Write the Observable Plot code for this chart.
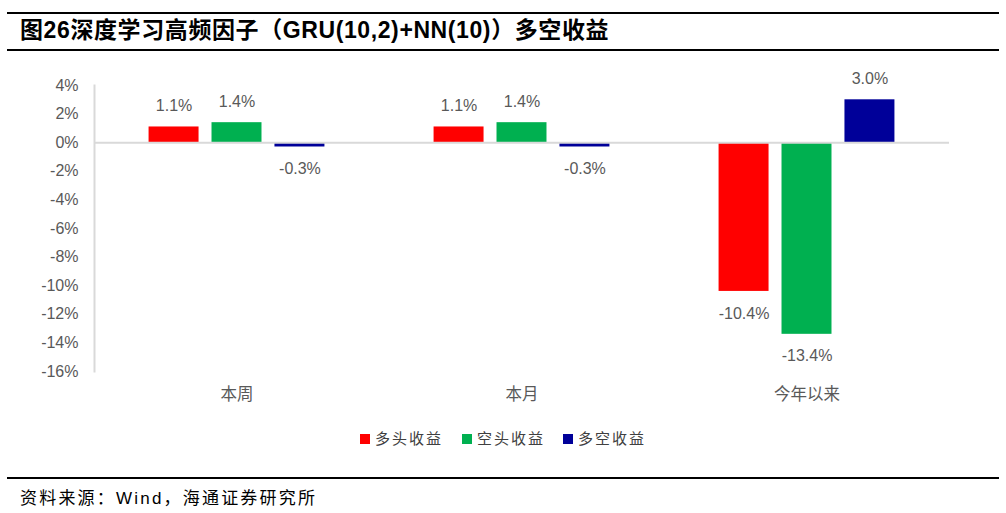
<!DOCTYPE html>
<html><head><meta charset="utf-8">
<script src="https://cdn.jsdelivr.net/npm/d3@7"></script>
<script src="https://cdn.jsdelivr.net/npm/@observablehq/plot@0.6"></script>
<style>
body{margin:0;background:#fff;font-family:"Liberation Sans","Noto Sans CJK SC",sans-serif;}
#wrap{position:relative;width:1006px;height:513px;overflow:hidden;}
.hr{position:absolute;left:7px;width:992px;height:2px;background:#000;}
#title{position:absolute;left:20px;top:14px;font-size:23px;font-weight:bold;color:#000;font-family:"Liberation Sans","Noto Sans CJK SC",sans-serif;line-height:32px;letter-spacing:0.6px;}
#chart{position:absolute;left:0;top:60px;}
#legend{position:absolute;top:428px;left:0;width:1006px;font-family:"Noto Sans CJK SC",sans-serif;font-size:15px;color:#404040;}
.li{position:absolute;top:0;line-height:20px;letter-spacing:2px;}
.sw{display:inline-block;width:10px;height:10px;margin-right:5px;vertical-align:-0px;}
#source{position:absolute;left:20px;top:484px;font-size:17px;letter-spacing:2.2px;color:#000;font-family:"Liberation Sans","Noto Sans CJK SC",sans-serif;}
</style></head>
<body><div id="wrap">
<div class="hr" style="top:12px"></div>
<div id="title">图26深度学习高频因子（GRU(10,2)+NN(10)）多空收益</div>
<div class="hr" style="top:49px"></div>
<div id="chart"></div>
<div id="legend"></div>
<div class="hr" style="top:477px"></div>
<div id="source">资料来源：Wind，海通证券研究所</div>
</div>
<script>
const categories = ["本周", "本月", "今年以来"];
const seriesNames = ["多头收益", "空头收益", "多空收益"];
const seriesColors = ["#FF0000", "#00B050", "#000099"];
const longValues = [1.1, 1.1, -10.4];
const shortValues = [1.4, 1.4, -13.4];
const spreadValues = [-0.3, -0.3, 3.0];
const yTicks = [4, 2, 0, -2, -4, -6, -8, -10, -12, -14, -16];

const seriesValues = [longValues, shortValues, spreadValues];
const data = [];
categories.forEach((c, i) => seriesNames.forEach((s, j) => data.push({cat: c, series: s, value: seriesValues[j][i]})));

const textColor = "#595959";
const chart = Plot.plot({
  width: 1006,
  height: 355,
  marginLeft: 93,
  marginRight: 57,
  marginTop: 25,
  marginBottom: 44,
  style: {fontFamily: "Liberation Sans, Noto Sans CJK SC, sans-serif", fontSize: "16px", color: textColor, background: "#fff"},
  fx: {domain: categories, padding: 0, label: null},
  x: {domain: seriesNames, paddingInner: 0.206, paddingOuter: 0.867, round: false, axis: null},
  y: {domain: [-16, 4], ticks: yTicks, label: null},
  color: {domain: seriesNames, range: seriesColors},
  marks: [
    Plot.frame({anchor: "left", facetAnchor: "left", stroke: "#d9d9d9", strokeWidth: 2}),
    Plot.axisY({ticks: yTicks, tickSize: 0, tickPadding: 16, tickFormat: d => d + "%", fill: textColor, fontSize: 16, label: null}),
    Plot.axisFx({anchor: "bottom", tickSize: 0, tickPadding: 17, fontSize: 16.5, fill: textColor, fontFamily: "Noto Sans CJK SC", label: null}),
    Plot.barY(data, {fx: "cat", x: "series", y: "value", fill: "series"}),
    Plot.ruleY([0], {stroke: "#d9d9d9", strokeWidth: 2}),
    Plot.text(data.filter(d => d.value >= 0), {fx: "cat", x: "series", y: "value", text: d => d.value.toFixed(1) + "%", dy: -21, fill: textColor, fontSize: 16}),
    Plot.text(data.filter(d => d.value < 0), {fx: "cat", x: "series", y: "value", text: d => d.value.toFixed(1) + "%", dy: 22, fill: textColor, fontSize: 16})
  ]
});
document.getElementById("chart").appendChild(chart);

const legend = document.getElementById("legend");
const legendLefts = [360, 462, 563];
seriesNames.forEach((s, j) => {
  const el = document.createElement("div");
  el.className = "li";
  el.style.left = legendLefts[j] + "px";
  el.innerHTML = `<span class="sw" style="background:${seriesColors[j]}"></span>${s}`;
  legend.appendChild(el);
});
</script>
</body></html>
